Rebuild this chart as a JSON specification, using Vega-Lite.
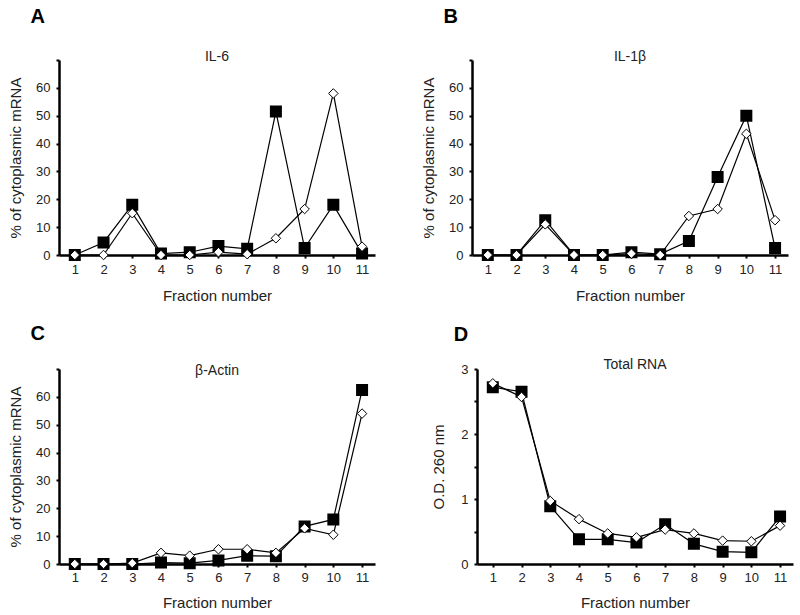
{
  "$schema": "https://vega.github.io/schema/vega-lite/v6.json",
  "background": "white",
  "padding": {"left": 8, "top": 7, "right": 4, "bottom": 0},
  "config": {
    "view": {"stroke": null},
    "font": "Liberation Sans",
    "axis": {"grid": false, "domainColor": "black", "domainWidth": 2.5, "tickColor": "black", "tickWidth": 2, "tickSize": 3, "labelFont": "Liberation Sans", "labelFontSize": 13, "labelColor": "#222", "titleFont": "Liberation Sans", "titleFontSize": 15, "titleFontWeight": "normal", "titleColor": "#222"},
    "title": {"font": "Liberation Sans", "fontWeight": "normal", "fontSize": 14, "color": "#222"}
  },
  "spacing": 21,
  "data": {"values": [
    {"panel": "A", "fraction": 1, "series": "filled", "value": 0},
    {"panel": "A", "fraction": 2, "series": "filled", "value": 4.5},
    {"panel": "A", "fraction": 3, "series": "filled", "value": 18},
    {"panel": "A", "fraction": 4, "series": "filled", "value": 0.5},
    {"panel": "A", "fraction": 5, "series": "filled", "value": 1},
    {"panel": "A", "fraction": 6, "series": "filled", "value": 3.2},
    {"panel": "A", "fraction": 7, "series": "filled", "value": 2.2},
    {"panel": "A", "fraction": 8, "series": "filled", "value": 51.5},
    {"panel": "A", "fraction": 9, "series": "filled", "value": 2.5},
    {"panel": "A", "fraction": 10, "series": "filled", "value": 18},
    {"panel": "A", "fraction": 11, "series": "filled", "value": 0.5},
    {"panel": "A", "fraction": 1, "series": "open", "value": 0},
    {"panel": "A", "fraction": 2, "series": "open", "value": 0},
    {"panel": "A", "fraction": 3, "series": "open", "value": 15},
    {"panel": "A", "fraction": 4, "series": "open", "value": 0},
    {"panel": "A", "fraction": 5, "series": "open", "value": 0},
    {"panel": "A", "fraction": 6, "series": "open", "value": 1},
    {"panel": "A", "fraction": 7, "series": "open", "value": 0.3},
    {"panel": "A", "fraction": 8, "series": "open", "value": 6},
    {"panel": "A", "fraction": 9, "series": "open", "value": 16.5},
    {"panel": "A", "fraction": 10, "series": "open", "value": 58},
    {"panel": "A", "fraction": 11, "series": "open", "value": 3},
    {"panel": "B", "fraction": 1, "series": "filled", "value": 0},
    {"panel": "B", "fraction": 2, "series": "filled", "value": 0},
    {"panel": "B", "fraction": 3, "series": "filled", "value": 12.5},
    {"panel": "B", "fraction": 4, "series": "filled", "value": 0},
    {"panel": "B", "fraction": 5, "series": "filled", "value": 0},
    {"panel": "B", "fraction": 6, "series": "filled", "value": 1},
    {"panel": "B", "fraction": 7, "series": "filled", "value": 0.3},
    {"panel": "B", "fraction": 8, "series": "filled", "value": 5},
    {"panel": "B", "fraction": 9, "series": "filled", "value": 28},
    {"panel": "B", "fraction": 10, "series": "filled", "value": 50},
    {"panel": "B", "fraction": 11, "series": "filled", "value": 2.5},
    {"panel": "B", "fraction": 1, "series": "open", "value": 0},
    {"panel": "B", "fraction": 2, "series": "open", "value": 0},
    {"panel": "B", "fraction": 3, "series": "open", "value": 11},
    {"panel": "B", "fraction": 4, "series": "open", "value": 0},
    {"panel": "B", "fraction": 5, "series": "open", "value": 0},
    {"panel": "B", "fraction": 6, "series": "open", "value": 0.5},
    {"panel": "B", "fraction": 7, "series": "open", "value": 0},
    {"panel": "B", "fraction": 8, "series": "open", "value": 14},
    {"panel": "B", "fraction": 9, "series": "open", "value": 16.5},
    {"panel": "B", "fraction": 10, "series": "open", "value": 43.5},
    {"panel": "B", "fraction": 11, "series": "open", "value": 12.5},
    {"panel": "C", "fraction": 1, "series": "filled", "value": 0},
    {"panel": "C", "fraction": 2, "series": "filled", "value": 0},
    {"panel": "C", "fraction": 3, "series": "filled", "value": 0},
    {"panel": "C", "fraction": 4, "series": "filled", "value": 0.5},
    {"panel": "C", "fraction": 5, "series": "filled", "value": 0.3},
    {"panel": "C", "fraction": 6, "series": "filled", "value": 1.3},
    {"panel": "C", "fraction": 7, "series": "filled", "value": 3},
    {"panel": "C", "fraction": 8, "series": "filled", "value": 2.8},
    {"panel": "C", "fraction": 9, "series": "filled", "value": 13.5},
    {"panel": "C", "fraction": 10, "series": "filled", "value": 16},
    {"panel": "C", "fraction": 11, "series": "filled", "value": 62.5},
    {"panel": "C", "fraction": 1, "series": "open", "value": 0},
    {"panel": "C", "fraction": 2, "series": "open", "value": 0},
    {"panel": "C", "fraction": 3, "series": "open", "value": 0.3},
    {"panel": "C", "fraction": 4, "series": "open", "value": 4},
    {"panel": "C", "fraction": 5, "series": "open", "value": 3},
    {"panel": "C", "fraction": 6, "series": "open", "value": 5.3},
    {"panel": "C", "fraction": 7, "series": "open", "value": 5.3},
    {"panel": "C", "fraction": 8, "series": "open", "value": 4},
    {"panel": "C", "fraction": 9, "series": "open", "value": 12.8},
    {"panel": "C", "fraction": 10, "series": "open", "value": 10.5},
    {"panel": "C", "fraction": 11, "series": "open", "value": 54},
    {"panel": "D", "fraction": 1, "series": "filled", "value": 2.72},
    {"panel": "D", "fraction": 2, "series": "filled", "value": 2.65},
    {"panel": "D", "fraction": 3, "series": "filled", "value": 0.89},
    {"panel": "D", "fraction": 4, "series": "filled", "value": 0.38},
    {"panel": "D", "fraction": 5, "series": "filled", "value": 0.38},
    {"panel": "D", "fraction": 6, "series": "filled", "value": 0.33},
    {"panel": "D", "fraction": 7, "series": "filled", "value": 0.61},
    {"panel": "D", "fraction": 8, "series": "filled", "value": 0.31},
    {"panel": "D", "fraction": 9, "series": "filled", "value": 0.19},
    {"panel": "D", "fraction": 10, "series": "filled", "value": 0.18},
    {"panel": "D", "fraction": 11, "series": "filled", "value": 0.73},
    {"panel": "D", "fraction": 1, "series": "open", "value": 2.78},
    {"panel": "D", "fraction": 2, "series": "open", "value": 2.57},
    {"panel": "D", "fraction": 3, "series": "open", "value": 0.97},
    {"panel": "D", "fraction": 4, "series": "open", "value": 0.69},
    {"panel": "D", "fraction": 5, "series": "open", "value": 0.47},
    {"panel": "D", "fraction": 6, "series": "open", "value": 0.41},
    {"panel": "D", "fraction": 7, "series": "open", "value": 0.53},
    {"panel": "D", "fraction": 8, "series": "open", "value": 0.47},
    {"panel": "D", "fraction": 9, "series": "open", "value": 0.36},
    {"panel": "D", "fraction": 10, "series": "open", "value": 0.35},
    {"panel": "D", "fraction": 11, "series": "open", "value": 0.59}
  ]},
  "vconcat": [
    {"spacing": 46, "hconcat": [
      {"title": {"text": "A", "anchor": "start", "fontSize": 20, "fontWeight": "bold", "color": "black", "dx": 22, "offset": 23},
       "vconcat": [{
        "title": {"text": "IL-6", "offset": -5},
        "width": 316, "height": 195,
        "transform": [{"filter": "datum.panel === 'A'"}],
        "encoding": {
          "x": {"field": "fraction", "type": "quantitative", "scale": {"domain": [0.45, 11.45], "nice": false, "zero": false}, "axis": {"values": [1,2,3,4,5,6,7,8,9,10,11], "title": "Fraction number", "labelPadding": 5, "titlePadding": 12}},
          "y": {"field": "value", "type": "quantitative", "scale": {"domain": [0, 70], "nice": false}, "axis": {"values": [0,10,20,30,40,50,60,70], "labelExpr": "datum.value > 60 ? '' : datum.label", "title": "% of cytoplasmic mRNA", "labelPadding": 6, "titlePadding": 12}}
        },
        "layer": [
          {"mark": {"type": "line", "color": "black", "strokeWidth": 1.2}, "encoding": {"detail": {"field": "series"}}},
          {"transform": [{"filter": "datum.series === 'filled'"}], "mark": {"type": "point", "shape": "square", "filled": true, "fill": "black", "stroke": "black", "size": 100, "opacity": 1}},
          {"transform": [{"filter": "datum.series === 'open'"}], "mark": {"type": "point", "shape": "diamond", "filled": true, "fill": "white", "stroke": "black", "strokeWidth": 1, "size": 90, "opacity": 1}}
        ]
      }]},
      {"title": {"text": "B", "anchor": "start", "fontSize": 20, "fontWeight": "bold", "color": "black", "dx": 22, "offset": 23},
       "vconcat": [{
        "title": {"text": "IL-1β", "offset": -5},
        "width": 316, "height": 195,
        "transform": [{"filter": "datum.panel === 'B'"}],
        "encoding": {
          "x": {"field": "fraction", "type": "quantitative", "scale": {"domain": [0.45, 11.45], "nice": false, "zero": false}, "axis": {"values": [1,2,3,4,5,6,7,8,9,10,11], "title": "Fraction number", "labelPadding": 5, "titlePadding": 12}},
          "y": {"field": "value", "type": "quantitative", "scale": {"domain": [0, 70], "nice": false}, "axis": {"values": [0,10,20,30,40,50,60,70], "labelExpr": "datum.value > 60 ? '' : datum.label", "title": "% of cytoplasmic mRNA", "labelPadding": 6, "titlePadding": 12}}
        },
        "layer": [
          {"mark": {"type": "line", "color": "black", "strokeWidth": 1.2}, "encoding": {"detail": {"field": "series"}}},
          {"transform": [{"filter": "datum.series === 'filled'"}], "mark": {"type": "point", "shape": "square", "filled": true, "fill": "black", "stroke": "black", "size": 100, "opacity": 1}},
          {"transform": [{"filter": "datum.series === 'open'"}], "mark": {"type": "point", "shape": "diamond", "filled": true, "fill": "white", "stroke": "black", "strokeWidth": 1, "size": 90, "opacity": 1}}
        ]
      }]}
    ]},
    {"spacing": 56, "hconcat": [
      {"title": {"text": "C", "anchor": "start", "fontSize": 20, "fontWeight": "bold", "color": "black", "dx": 22, "offset": 20},
       "vconcat": [{
        "title": {"text": "β-Actin", "offset": -10},
        "width": 316, "height": 195,
        "transform": [{"filter": "datum.panel === 'C'"}],
        "encoding": {
          "x": {"field": "fraction", "type": "quantitative", "scale": {"domain": [0.45, 11.45], "nice": false, "zero": false}, "axis": {"values": [1,2,3,4,5,6,7,8,9,10,11], "title": "Fraction number", "labelPadding": 4, "titlePadding": 11}},
          "y": {"field": "value", "type": "quantitative", "scale": {"domain": [0, 70], "nice": false}, "axis": {"values": [0,10,20,30,40,50,60,70], "labelExpr": "datum.value > 60 ? '' : datum.label", "title": "% of cytoplasmic mRNA", "labelPadding": 6, "titlePadding": 12}}
        },
        "layer": [
          {"mark": {"type": "line", "color": "black", "strokeWidth": 1.2}, "encoding": {"detail": {"field": "series"}}},
          {"transform": [{"filter": "datum.series === 'filled'"}], "mark": {"type": "point", "shape": "square", "filled": true, "fill": "black", "stroke": "black", "size": 100, "opacity": 1}},
          {"transform": [{"filter": "datum.series === 'open'"}], "mark": {"type": "point", "shape": "diamond", "filled": true, "fill": "white", "stroke": "black", "strokeWidth": 1, "size": 90, "opacity": 1}}
        ]
      }]},
      {"title": {"text": "D", "anchor": "start", "fontSize": 20, "fontWeight": "bold", "color": "black", "dx": 22, "offset": 13},
       "vconcat": [{
        "title": {"text": "Total RNA", "offset": -9},
        "width": 316, "height": 195,
        "transform": [{"filter": "datum.panel === 'D'"}],
        "encoding": {
          "x": {"field": "fraction", "type": "quantitative", "scale": {"domain": [0.45, 11.45], "nice": false, "zero": false}, "axis": {"values": [1,2,3,4,5,6,7,8,9,10,11], "title": "Fraction number", "labelPadding": 4, "titlePadding": 11}},
          "y": {"field": "value", "type": "quantitative", "scale": {"domain": [0, 3], "nice": false}, "axis": {"values": [0,0.5,1,1.5,2,2.5,3], "labelExpr": "datum.value % 1 !== 0 ? '' : format(datum.value, 'd')", "title": "O.D. 260 nm", "labelPadding": 6, "titlePadding": 14}}
        },
        "layer": [
          {"mark": {"type": "line", "color": "black", "strokeWidth": 1.2}, "encoding": {"detail": {"field": "series"}}},
          {"transform": [{"filter": "datum.series === 'filled'"}], "mark": {"type": "point", "shape": "square", "filled": true, "fill": "black", "stroke": "black", "size": 100, "opacity": 1}},
          {"transform": [{"filter": "datum.series === 'open'"}], "mark": {"type": "point", "shape": "diamond", "filled": true, "fill": "white", "stroke": "black", "strokeWidth": 1, "size": 90, "opacity": 1}}
        ]
      }]}
    ]}
  ]
}
